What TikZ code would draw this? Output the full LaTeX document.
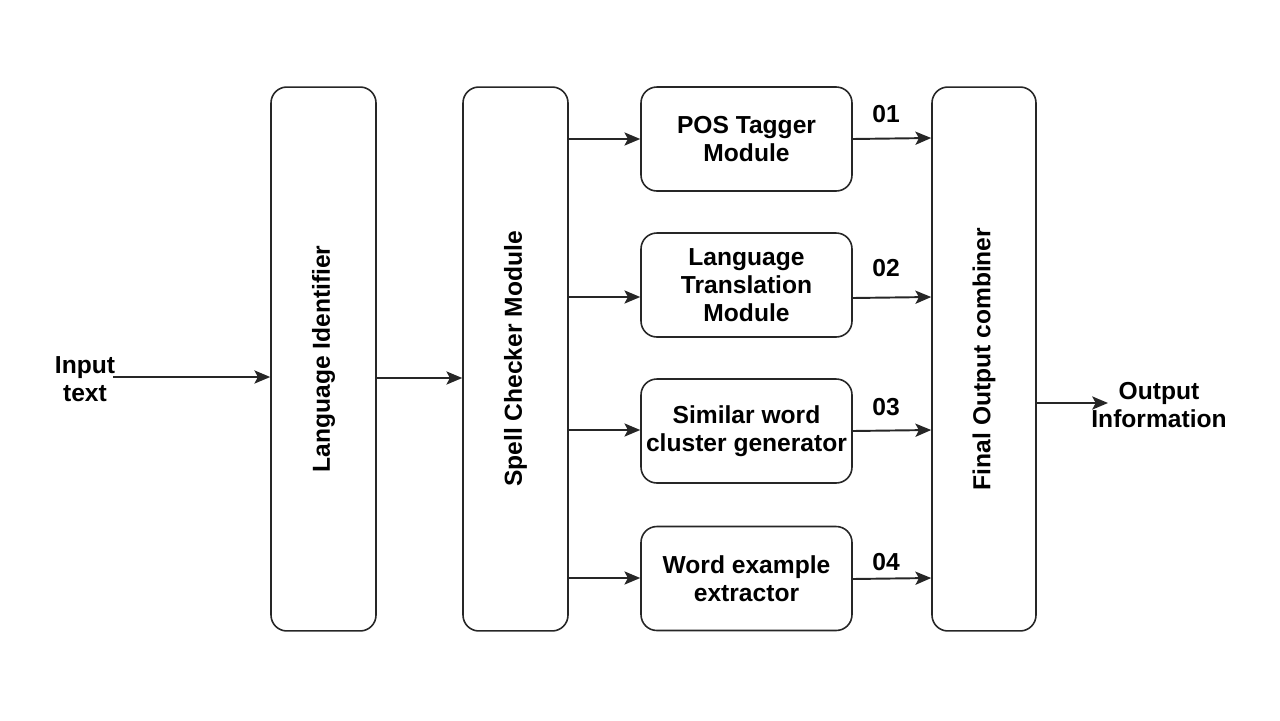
\documentclass[tikz,border=0pt]{standalone}
\usepackage{fontspec}
\setmainfont{Liberation Sans}
\usetikzlibrary{arrows.meta,calc}
\begin{document}
\begin{tikzpicture}[x=0.02cm,y=-0.02cm,
  every node/.style={font=\bfseries\fontsize{14}{16}\selectfont},
  tall/.style={draw=black!85,line width=0.9pt,rounded corners=9pt,minimum width=2.1cm,minimum height=10.88cm,inner sep=0pt},
  mod/.style={draw=black!85,line width=0.9pt,rounded corners=9pt,minimum width=4.22cm,minimum height=2.08cm,align=center,inner sep=0pt},
  lbl/.style={align=center,inner sep=0pt},
  arr/.style={draw=black!85,line width=1.1pt,-{Stealth[length=9pt,width=7.5pt,inset=2pt]}}]
\useasboundingbox (0,0) rectangle (1280,720);
\node[tall] (li) at (323.5,359) {};
\node[rotate=90] at (li.center) {Language Identifier};
\node[tall] (sc) at (515.5,359) {};
\node[rotate=90] at (sc.center) {Spell Checker Module};
\node[tall,minimum width=2.08cm] (foc) at (984,359) {};
\node[rotate=90] at (foc.center) {Final Output combiner};
\node[mod] (m1) at (746.5,139) {POS Tagger\\Module};
\node[mod] (m2) at (746.5,285) {Language\\Translation\\Module};
\node[mod] (m3) at (746.5,431) {Similar word\\cluster generator};
\node[mod] (m4) at (746.5,578.5) {Word example\\extractor};
\node[lbl] (in) at (85,379) {Input\\text};
\node[lbl] (out) at (1159,405) {Output\\Information};
\coordinate (inS) at (113,377);
\coordinate (outE) at (1108,403);
\draw[arr] (inS) -- (inS -| li.west);
\draw[arr] (li.east |- 0,378) -- (sc.west |- 0,378);
\draw[arr] (sc.east |- 0,139) -- (m1.west |- 0,139);
\draw[arr] (sc.east |- 0,297) -- (m2.west |- 0,297);
\draw[arr] (sc.east |- 0,430) -- (m3.west |- 0,430);
\draw[arr] (sc.east |- 0,578) -- (m4.west |- 0,578);
\draw[arr] (m1.east |- 0,139) -- (foc.west |- 0,138);
\draw[arr] (m2.east |- 0,298) -- (foc.west |- 0,297);
\draw[arr] (m3.east |- 0,431) -- (foc.west |- 0,430);
\draw[arr] (m4.east |- 0,579) -- (foc.west |- 0,578);
\draw[arr] (foc.east |- outE) -- (outE);
\node[lbl] (l1) at (886,114) {01};
\node[lbl] (l2) at (886,268) {02};
\node[lbl] (l3) at (886,407) {03};
\node[lbl] (l4) at (886,562) {04};
\end{tikzpicture}
\end{document}
